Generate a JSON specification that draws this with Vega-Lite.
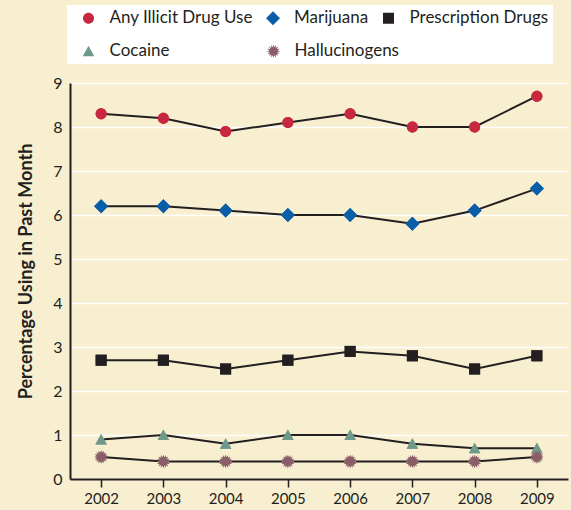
{
  "$schema": "https://vega.github.io/schema/vega-lite/v6.json",
  "width": 498,
  "height": 396,
  "autosize": "none",
  "padding": {"left": 70, "top": 83, "right": 3, "bottom": 31},
  "background": "#f8efd1",
  "config": {
    "view": {"stroke": null},
    "font": "Lato",
    "legend": {
      "orient": "none",
      "direction": "horizontal",
      "padding": 4.5,
      "symbolSize": 100,
      "symbolOffset": 8.5,
      "symbolStrokeWidth": 0,
      "labelFont": "Lato",
      "labelFontSize": 17,
      "labelColor": "#231f20",
      "labelOffset": 12.5,
      "columnPadding": 2.5
    }
  },
  "datasets": {
    "rates": [
      {"year": "2002", "series": "Any Illicit Drug Use", "value": 8.3},
      {"year": "2003", "series": "Any Illicit Drug Use", "value": 8.2},
      {"year": "2004", "series": "Any Illicit Drug Use", "value": 7.9},
      {"year": "2005", "series": "Any Illicit Drug Use", "value": 8.1},
      {"year": "2006", "series": "Any Illicit Drug Use", "value": 8.3},
      {"year": "2007", "series": "Any Illicit Drug Use", "value": 8.0},
      {"year": "2008", "series": "Any Illicit Drug Use", "value": 8.0},
      {"year": "2009", "series": "Any Illicit Drug Use", "value": 8.7},
      {"year": "2002", "series": "Marijuana", "value": 6.2},
      {"year": "2003", "series": "Marijuana", "value": 6.2},
      {"year": "2004", "series": "Marijuana", "value": 6.1},
      {"year": "2005", "series": "Marijuana", "value": 6.0},
      {"year": "2006", "series": "Marijuana", "value": 6.0},
      {"year": "2007", "series": "Marijuana", "value": 5.8},
      {"year": "2008", "series": "Marijuana", "value": 6.1},
      {"year": "2009", "series": "Marijuana", "value": 6.6},
      {"year": "2002", "series": "Prescription Drugs", "value": 2.7},
      {"year": "2003", "series": "Prescription Drugs", "value": 2.7},
      {"year": "2004", "series": "Prescription Drugs", "value": 2.5},
      {"year": "2005", "series": "Prescription Drugs", "value": 2.7},
      {"year": "2006", "series": "Prescription Drugs", "value": 2.9},
      {"year": "2007", "series": "Prescription Drugs", "value": 2.8},
      {"year": "2008", "series": "Prescription Drugs", "value": 2.5},
      {"year": "2009", "series": "Prescription Drugs", "value": 2.8},
      {"year": "2002", "series": "Cocaine", "value": 0.9},
      {"year": "2003", "series": "Cocaine", "value": 1.0},
      {"year": "2004", "series": "Cocaine", "value": 0.8},
      {"year": "2005", "series": "Cocaine", "value": 1.0},
      {"year": "2006", "series": "Cocaine", "value": 1.0},
      {"year": "2007", "series": "Cocaine", "value": 0.8},
      {"year": "2008", "series": "Cocaine", "value": 0.7},
      {"year": "2009", "series": "Cocaine", "value": 0.7},
      {"year": "2002", "series": "Hallucinogens", "value": 0.5},
      {"year": "2003", "series": "Hallucinogens", "value": 0.4},
      {"year": "2004", "series": "Hallucinogens", "value": 0.4},
      {"year": "2005", "series": "Hallucinogens", "value": 0.4},
      {"year": "2006", "series": "Hallucinogens", "value": 0.4},
      {"year": "2007", "series": "Hallucinogens", "value": 0.4},
      {"year": "2008", "series": "Hallucinogens", "value": 0.4},
      {"year": "2009", "series": "Hallucinogens", "value": 0.5}
    ]
  },
  "data": {"name": "rates"},
  "resolve": {
    "scale": {"color": "independent", "shape": "independent"},
    "legend": {"color": "independent", "shape": "independent"}
  },
  "encoding": {
    "x": {
      "field": "year",
      "type": "ordinal",
      "scale": {"type": "point", "padding": 0.5},
      "axis": {
        "title": null,
        "labelAngle": 0,
        "labelFont": "Lato",
        "labelFontSize": 15,
        "labelColor": "#231f20",
        "labelPadding": 4,
        "domainColor": "#231f20",
        "domainWidth": 2,
        "tickColor": "#231f20",
        "tickWidth": 1.5,
        "tickSize": 8,
        "grid": false
      }
    },
    "y": {
      "field": "value",
      "type": "quantitative",
      "scale": {"domain": [0, 9], "nice": false},
      "axis": {
        "title": "Percentage Using in Past Month",
        "titleFont": "Lato",
        "titleFontSize": 18,
        "titleFontWeight": "bold",
        "titleColor": "#231f20",
        "titlePadding": 17,
        "titleY": 188,
        "values": [0, 1, 2, 3, 4, 5, 6, 7, 8, 9],
        "labelFont": "Lato",
        "labelFontSize": 16,
        "labelColor": "#231f20",
        "labelPadding": 8,
        "ticks": false,
        "domainColor": "#231f20",
        "domainWidth": 2,
        "grid": true,
        "gridColor": "#ffffff",
        "gridWidth": 1.5
      }
    }
  },
  "layer": [
    {
      "mark": {"type": "line", "color": "#231f20", "strokeWidth": 2},
      "encoding": {"detail": {"field": "series"}}
    },
    {
      "mark": {"type": "point", "filled": true, "opacity": 1, "size": 100, "strokeWidth": 0},
      "encoding": {
        "color": {
          "field": "series",
          "type": "nominal",
          "scale": {
            "domain": ["Any Illicit Drug Use", "Marijuana", "Prescription Drugs", "Cocaine", "Hallucinogens"],
            "range": ["#c8283f", "#0a5ea8", "#231f20", "#6f9a8b", "#8b5d68"]
          },
          "legend": {
            "title": " ",
            "titleOrient": "bottom",
            "titleFontSize": 23,
            "titlePadding": 10,
            "values": ["Any Illicit Drug Use", "Marijuana", "Prescription Drugs"],
            "legendX": -3,
            "legendY": -78,
            "fillColor": "#ffffff"
          }
        },
        "shape": {
          "field": "series",
          "type": "nominal",
          "scale": {
            "domain": ["Any Illicit Drug Use", "Marijuana", "Prescription Drugs", "Cocaine", "Hallucinogens"],
            "range": [
              "M1.1,0A1.1,1.1 0 1,1 -1.1,0A1.1,1.1 0 1,1 1.1,0Z",
              "M0,-1.4L1.4,0L0,1.4L-1.4,0Z",
              "M-1.1,-1.1H1.1V1.1H-1.1Z",
              "M0,-1.1L1.15,1L-1.15,1Z",
              "M1.35,0L0.785,0.156L1.247,0.517L0.665,0.445L0.955,0.955L0.445,0.665L0.517,1.247L0.156,0.785L0,1.35L-0.156,0.785L-0.517,1.247L-0.445,0.665L-0.955,0.955L-0.665,0.445L-1.247,0.517L-0.785,0.156L-1.35,0L-0.785,-0.156L-1.247,-0.517L-0.665,-0.445L-0.955,-0.955L-0.445,-0.665L-0.517,-1.247L-0.156,-0.785L0,-1.35L0.156,-0.785L0.517,-1.247L0.445,-0.665L0.955,-0.955L0.665,-0.445L1.247,-0.517L0.785,-0.156Z"
            ]
          },
          "legend": {
            "title": " ",
            "titleOrient": "bottom",
            "titleFontSize": 23,
            "titlePadding": 10,
            "values": ["Any Illicit Drug Use", "Marijuana", "Prescription Drugs"],
            "legendX": -3,
            "legendY": -78,
            "fillColor": "#ffffff"
          }
        }
      }
    },
    {
      "mark": {"type": "point", "filled": true, "opacity": 1, "size": 100, "strokeWidth": 0},
      "encoding": {
        "color": {
          "field": "series",
          "type": "nominal",
          "scale": {
            "domain": ["Any Illicit Drug Use", "Marijuana", "Prescription Drugs", "Cocaine", "Hallucinogens"],
            "range": ["#c8283f", "#0a5ea8", "#231f20", "#6f9a8b", "#8b5d68"]
          },
          "legend": {
            "title": null,
            "values": ["Cocaine", "Hallucinogens"],
            "legendX": -3,
            "legendY": -45,
            "columnPadding": 87
          }
        },
        "shape": {
          "field": "series",
          "type": "nominal",
          "scale": {
            "domain": ["Any Illicit Drug Use", "Marijuana", "Prescription Drugs", "Cocaine", "Hallucinogens"],
            "range": [
              "M1.1,0A1.1,1.1 0 1,1 -1.1,0A1.1,1.1 0 1,1 1.1,0Z",
              "M0,-1.4L1.4,0L0,1.4L-1.4,0Z",
              "M-1.1,-1.1H1.1V1.1H-1.1Z",
              "M0,-1.1L1.15,1L-1.15,1Z",
              "M1.35,0L0.785,0.156L1.247,0.517L0.665,0.445L0.955,0.955L0.445,0.665L0.517,1.247L0.156,0.785L0,1.35L-0.156,0.785L-0.517,1.247L-0.445,0.665L-0.955,0.955L-0.665,0.445L-1.247,0.517L-0.785,0.156L-1.35,0L-0.785,-0.156L-1.247,-0.517L-0.665,-0.445L-0.955,-0.955L-0.445,-0.665L-0.517,-1.247L-0.156,-0.785L0,-1.35L0.156,-0.785L0.517,-1.247L0.445,-0.665L0.955,-0.955L0.665,-0.445L1.247,-0.517L0.785,-0.156Z"
            ]
          },
          "legend": {
            "title": null,
            "values": ["Cocaine", "Hallucinogens"],
            "legendX": -3,
            "legendY": -45,
            "columnPadding": 87
          }
        }
      }
    }
  ]
}
